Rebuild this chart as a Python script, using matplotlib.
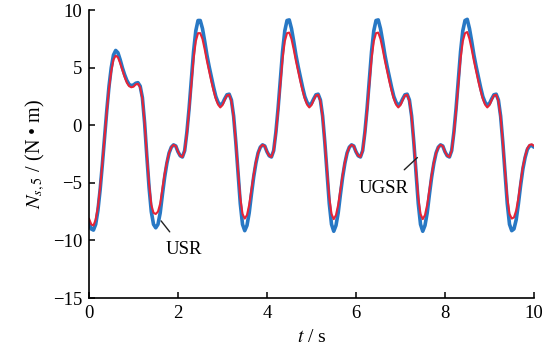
import numpy as np
import matplotlib
matplotlib.use("Agg")
import matplotlib.pyplot as plt

plt.rcParams['font.family'] = ['Liberation Serif', 'DejaVu Serif']
plt.rcParams['mathtext.fontset'] = 'stix'
plt.rcParams['font.size'] = 13.5

# sample times (s), 0.05 s apart
t = np.linspace(0, 10, 201)

# USR torque (blue)
usr = [
    -8.4, -9.0, -9.1, -8.6, -7.4, -5.6, -3.4, -1.0, 1.3, 3.4,
    5.0, 6.1, 6.5, 6.3, 5.7, 5.0, 4.4, 3.9, 3.55, 3.45,
    3.5, 3.65, 3.7, 3.4, 2.4, 0.2, -2.7, -5.4, -7.5, -8.6, -8.9,
    # 1.5 .. 3.5
    -8.6, -7.6, -6.0, -4.5, -3.3, -2.4, -1.9, -1.7, -1.8, -2.3,
    -2.65, -2.75, -2.2, -0.6, 1.5, 4.0, 6.4, 8.2, 9.1, 9.1,
    8.4, 7.3, 6.1, 5.1, 4.2, 3.3, 2.5, 2.0, 1.75, 1.9,
    2.3, 2.65, 2.7, 2.2, 0.8, -1.5, -4.2, -6.8, -8.6, -9.15,
    # 3.5 .. 5.5
    -8.7, -7.6, -6.0, -4.5, -3.3, -2.4, -1.9, -1.7, -1.8, -2.3,
    -2.65, -2.75, -2.2, -0.6, 1.5, 4.0, 6.4, 8.2, 9.1, 9.15,
    8.4, 7.3, 6.1, 5.1, 4.2, 3.3, 2.5, 2.0, 1.75, 1.9,
    2.3, 2.65, 2.7, 2.2, 0.8, -1.5, -4.2, -6.8, -8.6, -9.2,
    # 5.5 .. 7.5
    -8.7, -7.6, -6.0, -4.5, -3.3, -2.4, -1.9, -1.7, -1.8, -2.3,
    -2.65, -2.75, -2.2, -0.6, 1.5, 4.0, 6.4, 8.2, 9.1, 9.15,
    8.4, 7.3, 6.1, 5.1, 4.2, 3.3, 2.5, 2.0, 1.75, 1.9,
    2.3, 2.65, 2.7, 2.2, 0.8, -1.5, -4.2, -6.8, -8.6, -9.2,
    # 7.5 .. 9.5
    -8.7, -7.6, -6.0, -4.5, -3.3, -2.4, -1.9, -1.7, -1.8, -2.3,
    -2.65, -2.75, -2.2, -0.6, 1.5, 4.0, 6.4, 8.2, 9.1, 9.2,
    8.4, 7.3, 6.1, 5.1, 4.2, 3.3, 2.5, 2.0, 1.75, 1.9,
    2.3, 2.65, 2.7, 2.2, 0.8, -1.5, -4.2, -6.8, -8.6, -9.15,
    # 9.5 .. 10
    -9.0, -8.2, -6.8, -5.2, -3.8, -2.8, -2.1, -1.8, -1.75, -1.9,
]

# UGSR torque (red)
ugsr = [
    -8.1, -8.6, -8.7, -8.2, -7.1, -5.4, -3.3, -1.0, 1.2, 3.2,
    4.7, 5.7, 6.05, 5.9, 5.4, 4.8, 4.2, 3.7, 3.4, 3.3,
    3.35, 3.55, 3.6, 3.3, 2.3, 0.2, -2.6, -5.1, -6.9, -7.6, -7.7,
    # 1.5 .. 3.5
    -7.5, -6.8, -5.5, -4.2, -3.2, -2.4, -1.9, -1.7, -1.8, -2.3,
    -2.65, -2.75, -2.2, -0.7, 1.3, 3.6, 5.8, 7.3, 8.0, 8.0,
    7.5, 6.6, 5.6, 4.7, 3.8, 3.0, 2.3, 1.8, 1.55, 1.75,
    2.2, 2.6, 2.65, 2.1, 0.7, -1.5, -4.0, -6.3, -7.7, -8.1,
    # 3.5 .. 5.5
    -7.8, -6.9, -5.6, -4.3, -3.2, -2.4, -1.9, -1.7, -1.8, -2.3,
    -2.65, -2.75, -2.2, -0.7, 1.3, 3.6, 5.8, 7.3, 8.0, 8.05,
    7.5, 6.6, 5.6, 4.7, 3.8, 3.0, 2.3, 1.8, 1.55, 1.75,
    2.2, 2.6, 2.65, 2.1, 0.7, -1.5, -4.0, -6.3, -7.7, -8.15,
    # 5.5 .. 7.5
    -7.8, -6.9, -5.6, -4.3, -3.2, -2.4, -1.9, -1.7, -1.8, -2.3,
    -2.65, -2.75, -2.2, -0.7, 1.3, 3.6, 5.8, 7.3, 8.0, 8.05,
    7.5, 6.6, 5.6, 4.7, 3.8, 3.0, 2.3, 1.8, 1.55, 1.75,
    2.2, 2.6, 2.65, 2.1, 0.7, -1.5, -4.0, -6.3, -7.7, -8.15,
    # 7.5 .. 9.5
    -7.8, -6.9, -5.6, -4.3, -3.2, -2.4, -1.9, -1.7, -1.8, -2.3,
    -2.65, -2.75, -2.2, -0.7, 1.3, 3.6, 5.8, 7.3, 8.0, 8.1,
    7.5, 6.6, 5.6, 4.7, 3.8, 3.0, 2.3, 1.8, 1.55, 1.75,
    2.2, 2.6, 2.65, 2.1, 0.7, -1.5, -4.0, -6.3, -7.7, -8.1,
    # 9.5 .. 10
    -8.0, -7.4, -6.3, -4.9, -3.6, -2.7, -2.0, -1.7, -1.65, -1.8,
]

xticks = [0, 2, 4, 6, 8, 10]
yticks = [-15, -10, -5, 0, 5, 10]

fig = plt.figure(figsize=(5.44, 3.49), dpi=100)
ax = fig.add_axes([0.1636, 0.146, 0.818, 0.825])

ax.plot(t, usr, color='#2878c4', lw=2.6, solid_capstyle='round')
ax.plot(t, ugsr, color='#e62437', lw=1.5, solid_capstyle='round')

ax.set_xlim(0, 10)
ax.set_ylim(-15, 10)
ax.set_xticks(xticks)
ax.set_yticks(yticks)
ax.set_yticklabels(['\u221215', '\u221210', '\u22125', '0', '5', '10'])
ax.tick_params(direction='in', length=4, width=1.1, pad=5)
ax.spines['top'].set_visible(False)
ax.spines['right'].set_visible(False)
for s in ['left', 'bottom']:
    ax.spines[s].set_linewidth(1.2)

ax.set_xlabel('$t$ / s', labelpad=5, fontsize=14)
ax.set_ylabel('$N_{s,5}$ / (N \u2022 m)', labelpad=4, fontsize=14.5)

# leader lines and curve names
ax.annotate('USR', xy=(1.62, -8.3), xytext=(2.13, -10.8),
            ha='center', va='center',
            arrowprops=dict(arrowstyle='-', color='#222222', lw=1.0,
                            shrinkA=6, shrinkB=0))
ax.annotate('UGSR', xy=(7.38, -2.8), xytext=(6.63, -5.5),
            ha='center', va='center',
            arrowprops=dict(arrowstyle='-', color='#222222', lw=1.0,
                            shrinkA=8, shrinkB=0))

fig.savefig('out.png', dpi=100)
